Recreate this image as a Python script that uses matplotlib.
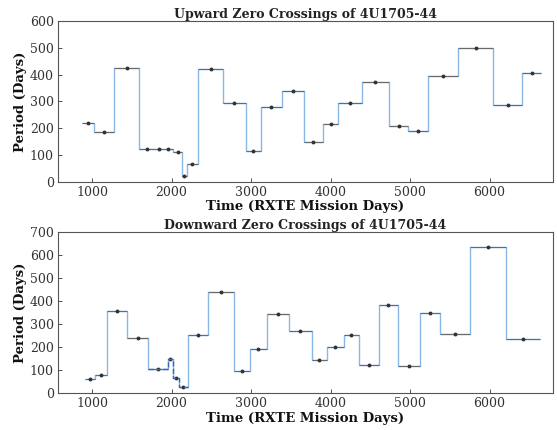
import numpy as np
import matplotlib
matplotlib.use("Agg")
import matplotlib.pyplot as plt

# ---- data ----
up_edges = [870, 1020, 1280, 1590, 1780, 1900, 2020, 2130, 2190, 2330, 2650, 2930,
            3120, 3390, 3660, 3900, 4100, 4400, 4730, 4980, 5230, 5600, 6050, 6410, 6650]
up_period = [220, 186, 425, 123, 123, 121, 112, 22, 65, 421, 295, 116,
             280, 339, 149, 216, 295, 373, 209, 190, 395, 500, 287, 407]

down_edges = [912, 1038, 1188, 1440, 1703, 1955, 2017, 2093, 2206, 2457, 2784, 2984,
              3198, 3474, 3763, 3952, 4165, 4354, 4605, 4843, 5120, 5383, 5760, 6212, 6639]
down_period = [61, 80, 358, 239, 104, 148, 65, 25, 252, 439, 96, 191,
               343, 270, 143, 200, 252, 122, 385, 117, 348, 257, 635, 235]
down_dashed = [4, 5, 6, 7]   # indices of segments drawn dashed

xticks = [1000, 2000, 3000, 4000, 5000, 6000]
up_yticks = [0, 100, 200, 300, 400, 500, 600]
down_yticks = [0, 100, 200, 300, 400, 500, 600, 700]

plt.rcParams['font.family'] = ['DejaVu Serif']

fig = plt.figure(figsize=(5.57, 4.30), dpi=100)
ax1 = fig.add_axes([0.104, 0.577, 0.889, 0.374])
ax2 = fig.add_axes([0.104, 0.086, 0.889, 0.374])

STEP = '#8ab8e6'
BAR = '#6a6a6a'


def draw(ax, edges, period, title, yticks, dashed=()):
    e = np.asarray(edges, float)
    p = np.asarray(period, float)
    mid = (e[:-1] + e[1:]) / 2
    half = np.diff(e) / 2
    ax.stairs(p, e, baseline=None, color=STEP, lw=1.0, zorder=1)
    if dashed:
        idx = np.asarray(dashed)
        de = e[idx[0]:idx[-1] + 2]
        dp = p[idx]
        ax.stairs(dp, de, baseline=None, color='#3a64b8', lw=1.0, ls='--', zorder=3)
    ax.errorbar(mid, p, xerr=half, fmt='o', ms=1.8, color='#333333',
                ecolor=BAR, elinewidth=0.8, capsize=0, zorder=2)
    ax.set_xlim(570, 6800)
    ax.set_ylim(yticks[0], yticks[-1])
    ax.set_xticks(xticks)
    ax.set_yticks(yticks)
    ax.tick_params(direction='in', labelsize=9, length=3, width=0.6, colors='#333333', pad=3)
    ax.set_title(title, fontsize=9, pad=1, color='#222222', fontweight='bold')
    ax.set_xlabel('Time (RXTE Mission Days)', fontsize=9.5, labelpad=1, color='#111111',
                  fontweight='bold')
    ax.set_ylabel('Period (Days)', fontsize=9.5, labelpad=2, color='#111111',
                  fontweight='bold')
    for s in ax.spines.values():
        s.set_color('#555555')
        s.set_linewidth(0.8)


draw(ax1, up_edges, up_period, 'Upward Zero Crossings of 4U1705-44', up_yticks)
draw(ax2, down_edges, down_period, 'Downward Zero Crossings of 4U1705-44', down_yticks,
     dashed=down_dashed)

fig.savefig('out.png', dpi=100)
